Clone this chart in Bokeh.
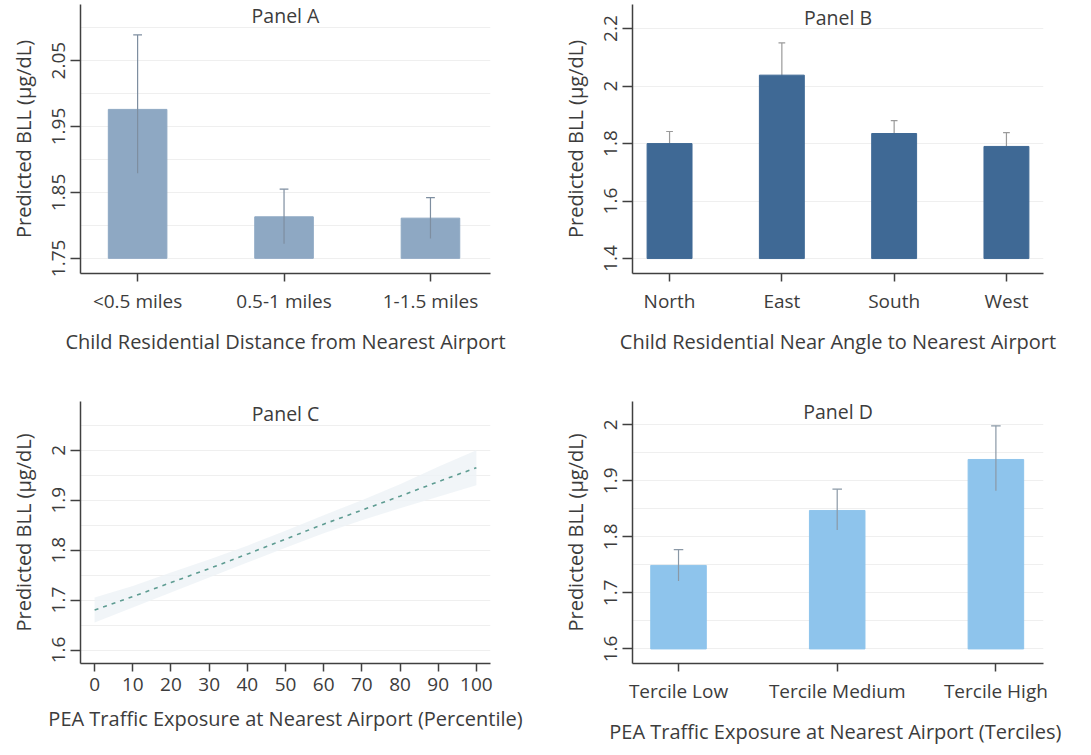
from bokeh.plotting import figure
from bokeh.layouts import gridplot
from bokeh.models import FixedTicker, Label, Range1d
from bokeh.embed import file_html
from bokeh.resources import INLINE

# ---------------- data ----------------
dist_cats = ["<0.5 miles", "0.5-1 miles", "1-1.5 miles"]
dist_pred = [1.976, 1.813, 1.811]
dist_lo = [1.879, 1.772, 1.780]
dist_hi = [2.089, 1.855, 1.842]
dist_base = 1.75

angle_cats = ["North", "East", "South", "West"]
angle_pred = [1.800, 2.038, 1.835, 1.790]
angle_lo = [1.758, 1.926, 1.790, 1.742]
angle_hi = [1.842, 2.150, 1.880, 1.838]
angle_base = 1.4

pct = [0, 10, 20, 30, 40, 50, 60, 70, 80, 90, 100]
pct_pred = [1.680, 1.707, 1.735, 1.763, 1.792, 1.822, 1.852, 1.880, 1.908, 1.937, 1.965]
pct_lo = [1.655, 1.685, 1.715, 1.745, 1.775, 1.805, 1.834, 1.860, 1.884, 1.907, 1.930]
pct_hi = [1.705, 1.728, 1.755, 1.781, 1.809, 1.839, 1.870, 1.900, 1.932, 1.967, 2.000]

terc_cats = ["Tercile Low", "Tercile Medium", "Tercile High"]
terc_pred = [1.749, 1.847, 1.938]
terc_lo = [1.721, 1.812, 1.882]
terc_hi = [1.777, 1.885, 1.998]
terc_base = 1.6

FONT = "Open Sans"
TXT = "#3c3c3c"
YLAB = "Predicted BLL (µg/dL)"
EXT = 10  # px of frame kept above the axis top so that the panel title is not clipped


def yrange(lo, hi, frame_px):
    return Range1d(lo, hi + EXT * (hi - lo) / frame_px)


def style(p, yticks, yminor, xlabel):
    p.outline_line_color = None
    p.background_fill_color = "white"
    p.border_fill_color = "white"
    p.xgrid.visible = False
    p.ygrid.grid_line_color = "#efefef"
    p.ygrid.minor_grid_line_color = "#efefef"
    p.yaxis.ticker = FixedTicker(ticks=yticks, minor_ticks=yminor)
    for ax in (p.xaxis[0], p.yaxis[0]):
        ax.axis_line_color = "#404040"
        ax.axis_line_width = 1.5
        ax.major_tick_line_color = "#404040"
        ax.major_tick_line_width = 1.5
        ax.major_tick_in = 0
        ax.minor_tick_line_color = None
        ax.major_label_text_font = FONT
        ax.major_label_text_font_size = "19px"
        ax.major_label_text_color = TXT
        ax.axis_label_text_font = FONT
        ax.axis_label_text_font_size = "20px"
        ax.axis_label_text_font_style = "normal"
        ax.axis_label_text_color = TXT
    p.xaxis.major_tick_out = 8
    p.yaxis.major_tick_out = 10
    p.xaxis.major_label_standoff = 6
    p.yaxis.major_label_standoff = 5
    p.xaxis.axis_label_standoff = 11
    p.yaxis.axis_label_standoff = 13
    p.yaxis.major_label_orientation = "vertical"
    p.xaxis.axis_label = xlabel
    p.yaxis.axis_label = YLAB


def add_title(p, text, xmid, ytop, yoff):
    p.add_layout(Label(x=xmid, y=ytop, text=text, text_font=FONT,
                       text_font_size="19.5px", text_color=TXT, text_align="center",
                       text_baseline="middle", y_offset=yoff))


def bar_panel(cats, pred, lo, hi, base, color, bw, xr, yr, yticks, yminor,
              title, xlabel, w, h, borders, err_color, err_on_top, yoff):
    frame_px = h - borders[2] - borders[3] - EXT
    p = figure(width=w, height=h, output_backend="svg", toolbar_location=None,
               x_range=Range1d(*xr), y_range=yrange(yr[0], yr[1], frame_px),
               min_border_left=borders[0], min_border_right=borders[1],
               min_border_top=borders[2], min_border_bottom=borders[3])
    style(p, yticks, yminor, xlabel)
    xs = list(range(len(cats)))
    p.xaxis.ticker = FixedTicker(ticks=xs)
    p.xaxis.major_label_overrides = {i: c for i, c in enumerate(cats)}

    def errbars():
        p.segment(x0=xs, y0=lo, x1=xs, y1=hi, line_color=err_color, line_width=1.2)
        p.segment(x0=[x - 0.03 for x in xs], y0=hi, x1=[x + 0.03 for x in xs], y1=hi,
                  line_color=err_color, line_width=1.2)

    if not err_on_top:
        errbars()
    p.vbar(x=xs, top=pred, bottom=base, width=bw, fill_color=color, line_color=color)
    if err_on_top:
        errbars()
    add_title(p, title, (xr[0] + xr[1]) / 2, yr[1], yoff)
    return p


pA = bar_panel(dist_cats, dist_pred, dist_lo, dist_hi, dist_base, "#8ea8c3", 0.4,
               (-0.39, 2.41), (1.727, 2.12), [1.75, 1.85, 1.95, 2.05], [1.8, 1.9, 2.0, 2.1],
               "Panel A", "Child Residential Distance from Nearest Airport",
               545, 385, (80, 52, 4, 112), "#7e8ea0", True, -1)

pB = bar_panel(angle_cats, angle_pred, angle_lo, angle_hi, angle_base, "#3f6995", 0.4,
               (-0.33, 3.33), (1.348, 2.249), [1.4, 1.6, 1.8, 2.0, 2.2], [],
               "Panel B", "Child Residential Near Angle to Nearest Airport",
               538, 385, (87, 40, 4, 112), "#9a9a9a", False, -3)

# Panel C
c_yr = (1.573, 2.078)
pC = figure(width=545, height=362, output_backend="svg", toolbar_location=None,
            x_range=Range1d(-3.7, 103.7), y_range=yrange(c_yr[0], c_yr[1], 362 - 16 - 78 - EXT),
            min_border_left=80, min_border_right=55, min_border_top=16, min_border_bottom=78)
style(pC, [1.6, 1.7, 1.8, 1.9, 2.0], [1.65, 1.75, 1.85, 1.95, 2.05],
      "PEA Traffic Exposure at Nearest Airport (Percentile)")
pC.xaxis.ticker = FixedTicker(ticks=pct)
pC.varea(x=pct, y1=pct_lo, y2=pct_hi, fill_color="#edf2f6", fill_alpha=0.8)
pC.line(x=pct, y=pct_pred, line_color="#5e9c92", line_width=1.6, line_dash="4 5")
add_title(pC, "Panel C", 50, c_yr[1], -2)

pD = bar_panel(terc_cats, terc_pred, terc_lo, terc_hi, terc_base, "#8ec4ec", 0.35,
               (-0.29, 2.30), (1.574, 2.024), [1.6, 1.7, 1.8, 1.9, 2.0], [1.65, 1.75, 1.85, 1.95],
               "Panel D", "PEA Traffic  Exposure at Nearest Airport (Terciles)",
               538, 362, (87, 40, 16, 78), "#8a98a6", True, 0)

grid = gridplot([[pA, pB], [pC, pD]], toolbar_location=None)
open("out.html", "w").write(file_html(grid, INLINE))
